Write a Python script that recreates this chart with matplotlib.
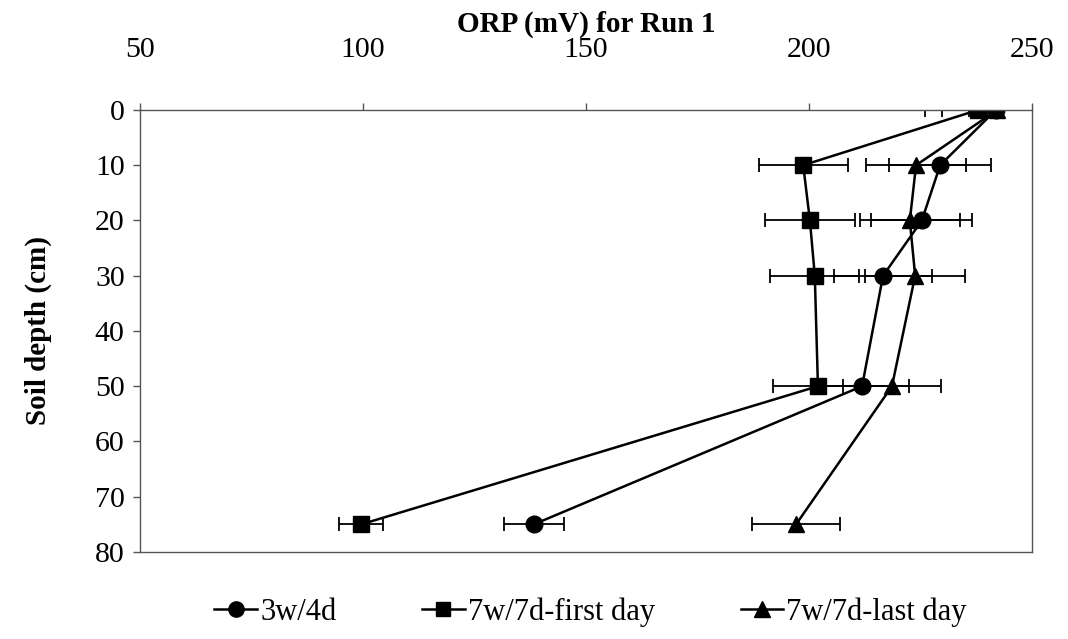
import matplotlib.pyplot as plt
from matplotlib.lines import Line2D
import numpy as np

plt.rcParams['font.family'] = ['Liberation Serif', 'DejaVu Serif']

# soil depth (cm)
depth = [0, 10, 20, 30, 50, 75]

# ORP (mV) and error values
orp_3w4d = [241.9, 229.4, 225.3, 216.6, 211.9, 138.3]
err_3w4d = [12.1, 11.5, 11.3, 10.9, 10.5, 6.8]

orp_first = [237.9, 198.7, 200.2, 201.3, 202.0, 99.6]
err_first = [2.0, 10.0, 10.0, 10.0, 10.0, 4.9]

orp_last = [242.2, 224.0, 222.6, 223.8, 218.6, 197.1]
err_last = [16.1, 11.2, 11.2, 11.2, 10.9, 9.8]

labels = ['3w/4d', '7w/7d-first day', '7w/7d-last day']

fig = plt.figure(figsize=(10.68, 6.39), dpi=100)
ax = fig.add_axes([0.1311, 0.1362, 0.8352, 0.6917])

series = [(orp_3w4d, err_3w4d, 'o', 12), (orp_first, err_first, 's', 11), (orp_last, err_last, '^', 12)]
handles = []
for (vals, errs, mk, ms), lab in zip(series, labels):
    ax.errorbar(vals, depth, xerr=errs, color='black', lw=1.8, marker=mk, ms=ms,
                elinewidth=1.3, capsize=5, capthick=1.3)
    handles.append(Line2D([], [], color='black', lw=1.8, marker=mk, ms=ms - 1, label=lab))

ax.set_xlim(50, 250)
ax.set_ylim(80, 0)
ax.set_xticks(np.arange(50, 251, 50))
ax.set_yticks(np.arange(0, 81, 10))
ax.xaxis.tick_top()
ax.xaxis.set_label_position('top')
ax.tick_params(axis='both', direction='out', length=5, width=1, labelsize=21.5, color='#555555')
ax.tick_params(axis='x', pad=29)
ax.tick_params(axis='y', pad=6)
for s in ax.spines.values():
    s.set_linewidth(1)
    s.set_color('#555555')

ax.set_xlabel('ORP (mV) for Run 1', fontsize=21, fontweight='bold', labelpad=4)
ax.set_ylabel('Soil depth (cm)', fontsize=21, fontweight='bold', labelpad=31)

ax.legend(handles=handles, loc='center', bbox_to_anchor=(0.553, 0.042), bbox_transform=fig.transFigure,
          ncol=3, frameon=False, fontsize=22, handlelength=1.4, columnspacing=2.8,
          handletextpad=0.1)

fig.savefig('out.png', dpi=100)
